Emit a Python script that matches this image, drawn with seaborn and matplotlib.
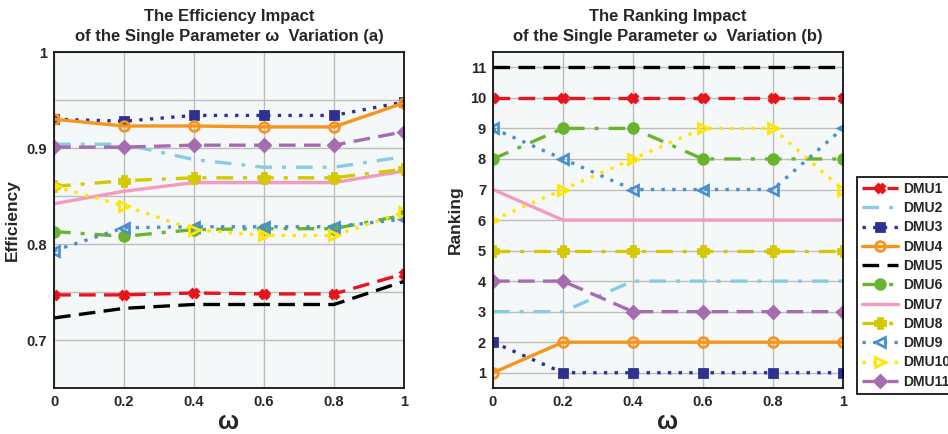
import numpy as np
import pandas as pd
import seaborn as sns
import matplotlib.pyplot as plt

# Omega values (x axis)
omega = [0, 0.2, 0.4, 0.6, 0.8, 1]
dmus = ["DMU1", "DMU2", "DMU3", "DMU4", "DMU5", "DMU6",
        "DMU7", "DMU8", "DMU9", "DMU10", "DMU11"]

# Efficiency values, panel (a)
eff_dmu1 = [0.747, 0.747, 0.749, 0.748, 0.748, 0.769]
eff_dmu2 = [0.904, 0.904, 0.888, 0.880, 0.880, 0.891]
eff_dmu3 = [0.930, 0.928, 0.934, 0.934, 0.934, 0.948]
eff_dmu4 = [0.930, 0.923, 0.923, 0.922, 0.922, 0.947]
eff_dmu5 = [0.723, 0.733, 0.737, 0.737, 0.737, 0.761]
eff_dmu6 = [0.813, 0.808, 0.815, 0.816, 0.816, 0.830]
eff_dmu7 = [0.842, 0.855, 0.864, 0.864, 0.864, 0.876]
eff_dmu8 = [0.860, 0.866, 0.869, 0.869, 0.869, 0.878]
eff_dmu9 = [0.793, 0.817, 0.818, 0.818, 0.818, 0.826]
eff_dmu10 = [0.860, 0.840, 0.815, 0.809, 0.809, 0.833]
eff_dmu11 = [0.901, 0.901, 0.903, 0.903, 0.903, 0.917]

# Ranking values, panel (b)
rank_dmu1 = [10, 10, 10, 10, 10, 10]
rank_dmu2 = [3, 3, 4, 4, 4, 4]
rank_dmu3 = [2, 1, 1, 1, 1, 1]
rank_dmu4 = [1, 2, 2, 2, 2, 2]
rank_dmu5 = [11, 11, 11, 11, 11, 11]
rank_dmu6 = [8, 9, 9, 8, 8, 8]
rank_dmu7 = [7, 6, 6, 6, 6, 6]
rank_dmu8 = [5, 5, 5, 5, 5, 5]
rank_dmu9 = [9, 8, 7, 7, 7, 9]
rank_dmu10 = [6, 7, 8, 9, 9, 7]
rank_dmu11 = [4, 4, 3, 3, 3, 3]

eff = [eff_dmu1, eff_dmu2, eff_dmu3, eff_dmu4, eff_dmu5, eff_dmu6,
       eff_dmu7, eff_dmu8, eff_dmu9, eff_dmu10, eff_dmu11]
rank = [rank_dmu1, rank_dmu2, rank_dmu3, rank_dmu4, rank_dmu5, rank_dmu6,
        rank_dmu7, rank_dmu8, rank_dmu9, rank_dmu10, rank_dmu11]

# line styles for each DMU: color, dashes, marker, marker fill
styles = {
    "DMU1": dict(color="#E8141C", ls=(0, (5, 2.5)), marker="X", mfc="#E8141C", ms=6),
    "DMU2": dict(color="#86CCE2", ls=(0, (5, 3, 1.2, 3)), marker=None, mfc=None, ms=0),
    "DMU3": dict(color="#2E3192", ls=(0, (1, 2.2)), marker="s", mfc="#2E3192", ms=6),
    "DMU4": dict(color="#F7941D", ls="-", marker="o", mfc="none", ms=7),
    "DMU5": dict(color="#000000", ls=(0, (5, 2.5)), marker=None, mfc=None, ms=0),
    "DMU6": dict(color="#6AB42D", ls=(0, (5, 3, 1.2, 3)), marker="o", mfc="#6AB42D", ms=7),
    "DMU7": dict(color="#F49AC1", ls="-", marker=None, mfc=None, ms=0),
    "DMU8": dict(color="#D4C800", ls=(0, (5, 3, 1.2, 3)), marker="P", mfc="#D4C800", ms=7),
    "DMU9": dict(color="#4A90D0", ls=(0, (1, 2.2)), marker="<", mfc="none", ms=7),
    "DMU10": dict(color="#FFE600", ls=(0, (1, 2.2)), marker=">", mfc="none", ms=7),
    "DMU11": dict(color="#A66CB0", ls=(0, (5, 2.5)), marker="D", mfc="#A66CB0", ms=6),
}

sns.set_style("white")
plt.rcParams['font.family'] = ['Liberation Sans', 'DejaVu Sans']
plt.rcParams['font.weight'] = 'bold'

fig = plt.figure(figsize=(9.48, 4.34), dpi=100)
ax1 = fig.add_axes([0.057, 0.106, 0.369, 0.774])
ax2 = fig.add_axes([0.520, 0.106, 0.369, 0.774])


def draw(ax, values):
    for name, vals in zip(dmus, values):
        st = styles[name]
        df = pd.DataFrame({"omega": omega, "value": vals})
        sns.lineplot(data=df, x="omega", y="value", ax=ax, color=st["color"],
                     linewidth=2.4, label=name)
        line = ax.lines[-1]
        line.set_linestyle(st["ls"])
        if st["marker"]:
            line.set_marker(st["marker"])
            line.set_markersize(st["ms"])
            line.set_markerfacecolor(st["mfc"])
            line.set_markeredgecolor(st["color"])
            line.set_markeredgewidth(2)
    if ax.get_legend() is not None:
        ax.get_legend().remove()


def style_axes(ax):
    ax.set_facecolor("#F5F8F8")
    ax.grid(True, color="#BDBDBD", linewidth=1)
    ax.set_axisbelow(True)
    for s in ax.spines.values():
        s.set_color("black")
        s.set_linewidth(1.2)
    ax.tick_params(direction="in", length=4, labelsize=10.5, width=1, pad=5)
    ax.set_xlim(0, 1)
    ax.set_xticks(omega)
    ax.set_xticklabels(["0", "0.2", "0.4", "0.6", "0.8", "1"], fontweight="bold")
    ax.set_xlabel("ω", fontsize=18, fontweight="bold", labelpad=1)


title_kw = dict(fontsize=12, fontweight="bold", linespacing=1.4, pad=8)

draw(ax1, eff)
style_axes(ax1)
ax1.set_ylim(0.65, 1.0)
yt = [0.65, 0.7, 0.75, 0.8, 0.85, 0.9, 0.95, 1.0]
ax1.set_yticks(yt)
ax1.set_yticklabels(["", "0.7", "", "0.8", "", "0.9", "", "1"], fontweight="bold")
ax1.set_ylabel("Efficiency", fontsize=12.5, fontweight="bold", labelpad=5)
ax1.set_title("The Efficiency Impact\nof the Single Parameter ω  Variation (a)", **title_kw)

draw(ax2, rank)
style_axes(ax2)
ax2.set_ylim(0.5, 11.5)
ax2.set_yticks(range(1, 12))
ax2.set_yticklabels([str(i) for i in range(1, 12)], fontweight="bold")
ax2.set_ylabel("Ranking", fontsize=12.5, fontweight="bold", labelpad=5)
ax2.set_title("The Ranking Impact\nof the Single Parameter ω  Variation (b)", **title_kw)

handles = ax2.lines[:len(dmus)]
leg = fig.legend(handles, dmus, loc="upper left", bbox_to_anchor=(0.904, 0.592),
                 fancybox=False, framealpha=1, edgecolor="black",
                 prop={"weight": "bold", "size": 10}, handlelength=2.6,
                 labelspacing=0.38, borderpad=0.35, handletextpad=0.4,
                 borderaxespad=0)
leg.get_frame().set_linewidth(1.2)

fig.savefig("out.png", dpi=100)
